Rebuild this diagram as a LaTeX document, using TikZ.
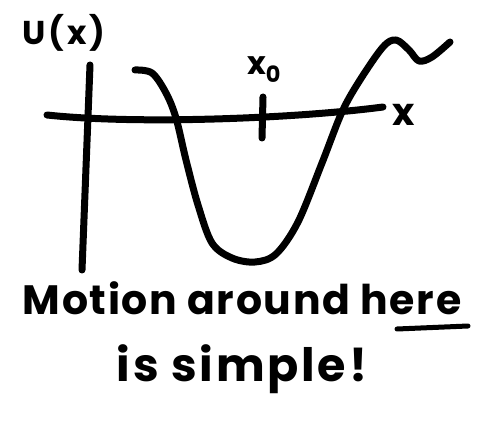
\documentclass[tikz,border=0pt]{standalone}
\usepackage{fontspec}
\setmainfont{Poppins}
\usetikzlibrary{positioning}

\begin{document}
\begin{tikzpicture}[
  x=1pt,y=-1pt,
  ink/.style={line width=7pt,line cap=round,line join=round},
  thin ink/.style={line width=5pt,line cap=round},
  hand/.style={font=\bfseries\fontsize{41}{46}\selectfont\addfontfeature{LetterSpace=4},inner sep=0pt},
  small hand/.style={font=\bfseries\fontsize{32}{36}\selectfont,inner sep=0pt}
]
\useasboundingbox (0,0) rectangle (478,427);
% axes
\coordinate (ytop) at (90,65);
\coordinate (ybot) at (82,270);
\coordinate (xleft) at (47,115);
\coordinate (xright) at (383,107);
\draw[ink] (ytop) -- (ybot);
\draw[ink] (xleft) .. controls (140,125) and (300,118) .. (xright);
% tick at x0
\coordinate (ticktop) at (263,97);
\coordinate (tickbot) at (262,138);
\draw[ink] (ticktop) -- (tickbot);
% potential
\draw[ink] plot[smooth,tension=0.55] coordinates {
  (135,70) (152,73) (166,93) (176,118) (186,160) (198,205) (212,243)
  (232,258) (255,262) (276,254) (298,222) (322,163) (342,112) (360,80)
  (383,47) (396,40) (409,50) (419,61) (432,57) (450,42)};
% labels
\node[small hand,font=\bfseries\fontsize{33}{36}\selectfont\addfontfeature{LetterSpace=8}] (ulabel) at (64,33) {U(x)};
\node[small hand] (xnought) at (264,70) {x\textsubscript{0}};
\node[small hand,font=\bfseries\fontsize{38}{40}\selectfont] (xlabel) at (404,115) {x};
\node[hand] (motion) at (242,298) {Motion around here};
\node[hand,font=\bfseries\fontsize{46}{50}\selectfont\addfontfeature{LetterSpace=6},below=30pt of motion] (simple) {is simple!};
\coordinate (ulstart) at (397,329);
\coordinate (ulend) at (468,326);
\draw[thin ink] (ulstart) -- (ulend);
\end{tikzpicture}
\end{document}
